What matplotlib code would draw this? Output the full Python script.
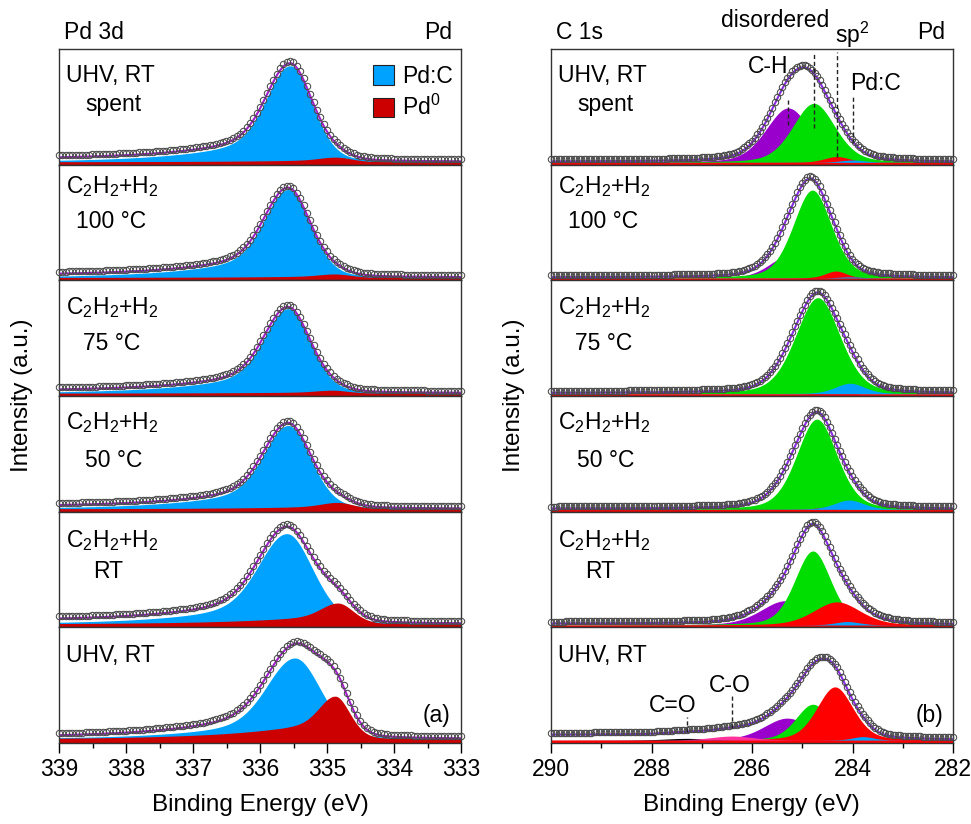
import numpy as np
import matplotlib
matplotlib.use("Agg")
import matplotlib.pyplot as plt
from matplotlib import transforms
from matplotlib.patches import Patch

plt.rcParams['font.family'] = ['Liberation Sans', 'DejaVu Sans']
plt.rcParams['mathtext.fontset'] = 'custom'
plt.rcParams['mathtext.rm'] = 'Liberation Sans'
plt.rcParams['mathtext.it'] = 'Liberation Sans'
plt.rcParams['mathtext.bf'] = 'Liberation Sans'
plt.rcParams['mathtext.default'] = 'regular'

# ---------------- data ----------------
panel_line1 = ["UHV, RT", "C$_2$H$_2$+H$_2$", "C$_2$H$_2$+H$_2$", "C$_2$H$_2$+H$_2$", "C$_2$H$_2$+H$_2$", "UHV, RT"]
panel_line2 = ["spent", "100 °C", "75 °C", "50 °C", "RT", ""]

# Pd 3d fit components (center eV, amplitude, FWHM eV), panels top -> bottom
pdc_center = [335.55, 335.58, 335.58, 335.58, 335.60, 335.48]
pdc_amp    = [0.83, 0.76, 0.73, 0.72, 0.78, 0.70]
pdc_fwhm   = [0.78, 0.78, 0.78, 0.80, 0.92, 0.92]
pd0_center = [334.87, 334.88, 334.92, 334.84, 334.84, 334.88]
pd0_amp    = [0.04, 0.03, 0.025, 0.055, 0.18, 0.37]
pd0_fwhm   = [0.55, 0.55, 0.55, 0.55, 0.55, 0.52]
pd_bg_low  = [0.025, 0.025, 0.025, 0.025, 0.03, 0.035]
pd_bg_high = [0.05, 0.045, 0.045, 0.045, 0.06, 0.05]

# C 1s fit components
ch_center = [285.28, 285.28, 285.28, 285.28, 285.34, 285.30]
ch_amp    = [0.47, 0.19, 0.08, 0.11, 0.21, 0.19]
ch_fwhm   = [1.05, 0.90, 0.90, 0.90, 1.15, 1.10]
dis_center = [284.77, 284.80, 284.69, 284.71, 284.79, 284.79]
dis_amp    = [0.51, 0.76, 0.83, 0.78, 0.64, 0.31]
dis_fwhm   = [1.00, 0.90, 1.05, 0.95, 0.85, 0.80]
sp2_center = [284.31, 284.33, 284.40, 284.50, 284.31, 284.35]
sp2_amp    = [0.05, 0.06, 0.01, 0.02, 0.20, 0.46]
sp2_fwhm   = [0.60, 0.50, 0.50, 0.50, 1.10, 0.85]
cpd_center = [284.00, 284.05, 284.05, 284.07, 284.10, 283.79]
cpd_amp    = [0.02, 0.01, 0.09, 0.08, 0.03, 0.03]
cpd_fwhm   = [0.60, 0.60, 0.70, 0.70, 0.60, 0.50]
co2_center = [287.30, 287.30, 287.30, 287.30, 287.30, 287.30]   # C=O
co2_amp    = [0.0, 0.0, 0.0, 0.0, 0.0, 0.015]
co2_fwhm   = [1.0, 1.0, 1.0, 1.0, 1.0, 1.0]
co1_center = [286.40, 286.40, 286.40, 286.40, 286.40, 286.40]   # C-O
co1_amp    = [0.0, 0.0, 0.0, 0.0, 0.0, 0.035]
co1_fwhm   = [1.0, 1.0, 1.0, 1.0, 1.0, 1.0]
c_bg_low  = [0.02, 0.02, 0.02, 0.02, 0.02, 0.025]
c_bg_high = [0.025, 0.025, 0.025, 0.025, 0.03, 0.07]

pd_ticks = [339, 338, 337, 336, 335, 334, 333]
c_ticks = [290, 288, 286, 284, 282]

# ---------------- helpers ----------------
def peak(E, c, a, w, eta, m=0.0, k=1.0):
    x = E - c
    g = np.exp(-4 * np.log(2) * x ** 2 / w ** 2)
    l = 1.0 / (1.0 + 4 * x ** 2 / w ** 2)
    base = (1 - eta) * g + eta * l
    tail = np.where(x > 0, (1 - base) * m * np.exp(-k * np.abs(x)), 0.0)
    return a * (base + tail)

def shirley(total, lo, hi):
    cum = np.cumsum(total)
    frac = cum / cum[-1] if cum[-1] > 0 else np.zeros_like(cum)
    return lo + (hi - lo) * frac

W, H = 971, 824
fig = plt.figure(figsize=(W / 100, H / 100), dpi=100)
top_px, bot_px = 49, 743
ph = (bot_px - top_px) / 6.0

line1_y = [0.715, 0.75, 0.71, 0.71, 0.69, 0.70]
line2_y = [0.465, 0.45, 0.40, 0.39, 0.43, 0.0]
line2_x = [0.065, 0.042, 0.06, 0.065, 0.085, 0.0]

PDC_COL = '#00A2FF'
PD0_COL = '#CC0000'
FIT_PD = '#A020C8'
FIT_C = '#8A2BE2'
C_COLS = {'ch': '#9900CC', 'dis': '#00DD00', 'sp2': '#FF0000', 'cpd': '#00A2FF', 'co2': '#000000', 'co1': '#FF3399'}

FS = 16.5
TFS = 16.5
LFS = 17.5

def make_ax(left_px, i):
    b = 1 - (top_px + (i + 1) * ph) / H
    ax = fig.add_axes([left_px / W, b, 402 / W, ph / H])
    for s in ax.spines.values():
        s.set_linewidth(1.0)
        s.set_color('#333333')
    ax.set_yticks([])
    ax.set_ylim(0, 1)
    return ax

def finish_ax(ax, i, ticks, minor_step):
    ax.set_xticks(ticks)
    lo, hi = min(ticks), max(ticks)
    ax.set_xticks(np.arange(lo, hi + 1e-9, minor_step), minor=True)
    if i == 5:
        ax.tick_params(axis='x', which='major', direction='out', length=7, width=1.0, labelsize=TFS, pad=4)
        ax.tick_params(axis='x', which='minor', direction='out', length=3.5, width=1.0)
    else:
        ax.tick_params(axis='x', which='both', bottom=False, labelbottom=False)

def labels(ax, i):
    ax.text(0.018, line1_y[i], panel_line1[i], transform=ax.transAxes, fontsize=FS, va='baseline', ha='left')
    if panel_line2[i]:
        ax.text(line2_x[i], line2_y[i], panel_line2[i], transform=ax.transAxes, fontsize=FS, va='baseline', ha='left')

MK = dict(marker='o', ls='none', ms=4.6, mfc='none', mec='#4a4a4a', mew=0.75, zorder=4, clip_on=False)

# ---------------- Pd 3d column ----------------
Ef = np.arange(333.0, 339.0001, 0.01)
Ed = np.arange(333.0, 339.0001, 0.05)
for i in range(6):
    ax = make_ax(59, i)
    ax.set_xlim(339, 333)
    def comps(E):
        b = peak(E, pdc_center[i], pdc_amp[i], pdc_fwhm[i], 0.2, 0.30, 0.9)
        r = peak(E, pd0_center[i], pd0_amp[i], pd0_fwhm[i], 0.2, 0.45, 0.8)
        return b, r
    bf, rf = comps(Ef)
    env = shirley(bf + rf, pd_bg_low[i], pd_bg_high[i]) + bf + rf
    bd, rd = comps(Ed)
    envd = shirley(bd + rd, pd_bg_low[i], pd_bg_high[i]) + bd + rd
    ax.fill_between(Ef, 0, pd_bg_low[i] + bf, color=PDC_COL, lw=0, zorder=1)
    ax.fill_between(Ef, 0, pd_bg_low[i] + rf, color=PD0_COL, lw=0, zorder=2)
    ax.plot(Ef, env, color=FIT_PD, lw=1.5, zorder=3)
    off = transforms.offset_copy(ax.transData, fig=fig, x=0, y=2, units='dots')
    ax.plot(Ed, envd, transform=off, **MK)
    labels(ax, i)
    finish_ax(ax, i, pd_ticks, 0.5)
    if i == 0:
        ax.text(0.012, 1.09, "Pd 3d", transform=ax.transAxes, fontsize=FS, va='baseline', ha='left')
        ax.text(0.978, 1.09, "Pd", transform=ax.transAxes, fontsize=FS, va='baseline', ha='right')
        handles = [Patch(facecolor=PDC_COL, edgecolor='#222222', lw=0.8, label='Pd:C'),
                   Patch(facecolor=PD0_COL, edgecolor='#222222', lw=0.8, label='Pd$^0$')]
        ax.legend(handles=handles, loc='upper left', bbox_to_anchor=(0.78, 0.86), frameon=False,
                  fontsize=FS, handlelength=0.95, handleheight=0.95, handletextpad=0.35,
                  labelspacing=0.3, borderpad=0.0, borderaxespad=0.0)
    if i == 5:
        ax.text(0.973, 0.24, "(a)", transform=ax.transAxes, fontsize=FS, va='center', ha='right')

# ---------------- C 1s column ----------------
Ef = np.arange(282.0, 290.0001, 0.01)
Ed = np.arange(282.0, 290.0001, 0.05)
for i in range(6):
    ax = make_ax(551, i)
    ax.set_xlim(290, 282)
    def comps(E):
        return {
            'ch': peak(E, ch_center[i], ch_amp[i], ch_fwhm[i], 0.3),
            'dis': peak(E, dis_center[i], dis_amp[i], dis_fwhm[i], 0.3),
            'sp2': peak(E, sp2_center[i], sp2_amp[i], sp2_fwhm[i], 0.3),
            'cpd': peak(E, cpd_center[i], cpd_amp[i], cpd_fwhm[i], 0.3),
            'co2': peak(E, co2_center[i], co2_amp[i], co2_fwhm[i], 0.3),
            'co1': peak(E, co1_center[i], co1_amp[i], co1_fwhm[i], 0.3),
        }
    cf = comps(Ef)
    tot = sum(cf.values())
    env = shirley(tot, c_bg_low[i], c_bg_high[i]) + tot
    cd = comps(Ed)
    totd = sum(cd.values())
    envd = shirley(totd, c_bg_low[i], c_bg_high[i]) + totd
    base = c_bg_low[i]
    for z, key in enumerate(['ch', 'dis', 'sp2', 'cpd', 'co2', 'co1']):
        y = cf[key]
        lower = 0 if key == 'sp2' else base
        ax.fill_between(Ef, lower, base + y, where=(y > 1e-4) | (key == 'sp2'),
                        color=C_COLS[key], lw=0, zorder=1 + z * 0.1)
    ax.plot(Ef, env, color=FIT_C, lw=1.5, zorder=3)
    off = transforms.offset_copy(ax.transData, fig=fig, x=0, y=2, units='dots')
    ax.plot(Ed, envd, transform=off, **MK)
    labels(ax, i)
    finish_ax(ax, i, c_ticks, 1.0)
    if i == 0:
        ax.text(0.012, 1.09, "C 1s", transform=ax.transAxes, fontsize=FS, va='baseline', ha='left')
        ax.text(0.98, 1.09, "Pd", transform=ax.transAxes, fontsize=FS, va='baseline', ha='right')
        dash = dict(color='#222222', lw=1.0, ls=(0, (3, 2)), zorder=5)
        ax.plot([ch_center[0]] * 2, [0.345, 0.56], **dash)
        ax.plot([dis_center[0]] * 2, [0.32, 0.975], **dash)
        ax.plot([sp2_center[0]] * 2, [0.07, 0.975], **dash)
        ax.plot([cpd_center[0]] * 2, [0.19, 0.586], **dash)
        ax.text(0.541, 0.79, "C-H", transform=ax.transAxes, fontsize=FS, ha='center', va='baseline')
        ax.text(0.806, 0.647, "Pd:C", transform=ax.transAxes, fontsize=FS, ha='center', va='baseline')
        ax.text(0.557, 1.19, "disordered", transform=ax.transAxes, fontsize=FS, ha='center', va='baseline')
        ax.text(0.706, 1.05, "sp$^2$", transform=ax.transAxes, fontsize=FS, ha='left', va='baseline')
    if i == 5:
        dash = dict(color='#222222', lw=1.0, ls=(0, (3, 2)), zorder=5)
        ax.plot([co2_center[5]] * 2, [0.095, 0.224], **dash)
        ax.plot([co1_center[5]] * 2, [0.13, 0.414], **dash)
        ax.text(co2_center[5] + 0.27, 0.267, "C=O", fontsize=FS, ha='center', va='baseline')
        ax.text(co1_center[5] + 0.04, 0.44, "C-O", fontsize=FS, ha='center', va='baseline')
        ax.text(0.975, 0.24, "(b)", transform=ax.transAxes, fontsize=FS, va='center', ha='right')

fig.text(0.0227, 0.52, "Intensity (a.u.)", rotation=90, fontsize=LFS, ha='center', va='center')
fig.text(0.529, 0.52, "Intensity (a.u.)", rotation=90, fontsize=LFS, ha='center', va='center')
fig.text(0.268, 1 - 805 / H, "Binding Energy (eV)", fontsize=LFS, ha='center', va='center')
fig.text(0.774, 1 - 805 / H, "Binding Energy (eV)", fontsize=LFS, ha='center', va='center')

fig.savefig("out.png", dpi=100)
